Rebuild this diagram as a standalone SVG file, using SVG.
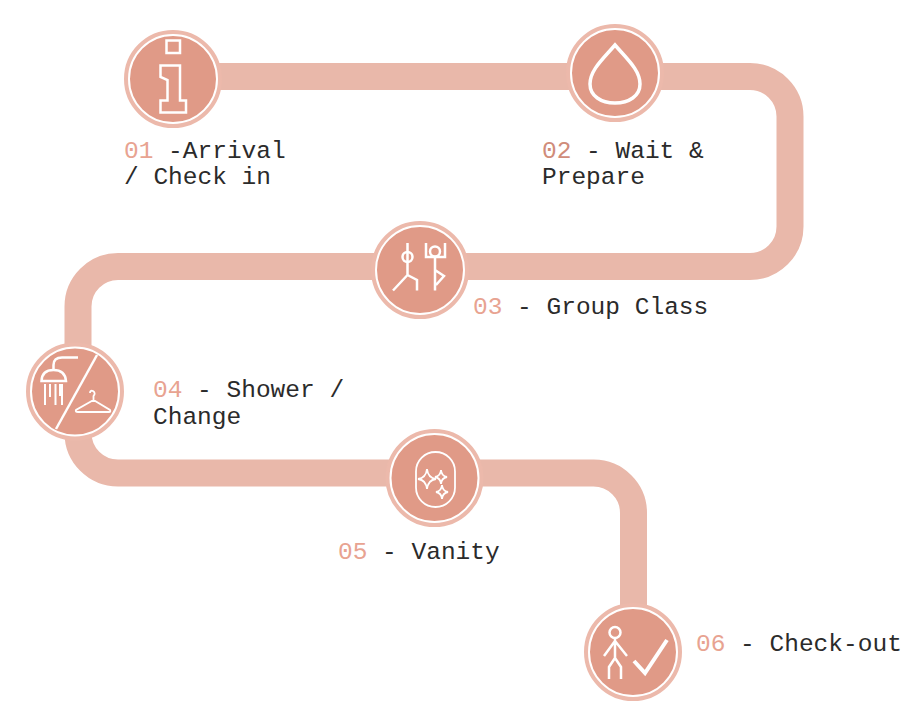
<svg xmlns="http://www.w3.org/2000/svg" width="908" height="701" viewBox="0 0 908 701">
<style>
.band{fill:none;stroke:#e9b8aa;stroke-width:27}
.outer{fill:#e09a87;stroke:#ecb9ab;stroke-width:5}
.ring{fill:none;stroke:#fff;stroke-width:2}
.ic{fill:none;stroke:#fff;stroke-width:2.500;stroke-linecap:butt;stroke-linejoin:miter}
.lb{font-family:"Liberation Mono","DejaVu Sans Mono",monospace;font-size:24.5px;fill:#2b2b2b}
.n{fill:#e8a391}
.n2{fill:#d08c7a}
</style>
<rect width="908" height="701" fill="#fff"/>
<g id="connectors">
<path class="band" d="M173 76.500H750A40 40 0 0 1 790 116.500V226.500A40 40 0 0 1 750 266.500H118A40 40 0 0 0 78 306.500V433A40 40 0 0 0 118 473H593A40 40 0 0 1 633.500 513.500V640"/>
</g>
<g id="node1">
<circle class="outer" cx="173" cy="79" r="46.500"/><circle class="ring" cx="173" cy="79" r="44"/>
<path class="ic" d="M166.500 40.500H180V53H166.500ZM160.500 65.500H180V100.500H186V112.500H160.500V100.500H167.500V80L160.500 77Z"/>
</g>
<g id="node2">
<circle class="outer" cx="615" cy="73" r="46.500"/><circle class="ring" cx="615" cy="73" r="44"/>
<path class="ic" style="stroke-width:3.500" d="M615 45C603 59 590 70 590 84C590 96 601 103 615 103C629 103 640 96 640 84C640 70 627 59 615 45Z"/>
</g>
<g id="node3">
<circle class="outer" cx="420" cy="270" r="46.500"/><circle class="ring" cx="420" cy="270" r="44"/>
<g class="ic"><path d="M407.500 243V275M407.500 275L393 290.500M407.500 275L417 280V290.500M426 243V257H445V243M435 257V290.500M435 270L444 276L436 285"/><circle cx="407.500" cy="257" r="5"/><circle cx="435" cy="251.500" r="5"/></g>
</g>
<g id="node4">
<circle class="outer" cx="75" cy="391.500" r="46.500"/><circle class="ring" cx="75" cy="391.500" r="44"/>
<g class="ic"><path d="M97 355L56 429"/><path d="M78 357.500H62Q53.500 357.500 53.500 365V370"/><path d="M41.500 381Q42 370 53.500 370Q65 370 66 381Z"/><path style="stroke-width:2" d="M45 384V405M50 384V397M55.500 384V405M60 384V396M62 384V405"/><path style="stroke-width:1.800" d="M90 393Q90 390 93 391Q96 393 93.500 396V400L76 410Q75 412 78 412H109Q111 412 110 410L93.500 400"/></g>
</g>
<g id="node5">
<circle class="outer" cx="434.500" cy="478" r="46.500"/><circle class="ring" cx="434.500" cy="478" r="44"/>
<g class="ic" style="stroke-width:1.800"><rect x="416" y="452" width="39" height="55" rx="19.500"/>
<path d="M427 469Q428 478 436 479Q428 480 427 489Q426 480 418 479Q426 478 427 469Z"/><path d="M441 470Q441.500 476 447 477Q441.500 478 441 484Q440.500 478 435 477Q440.500 476 441 470Z"/><path d="M442 485Q442.500 491 448 492Q442.500 493 442 499Q441.500 493 436 492Q441.500 491 442 485Z"/></g>
</g>
<g id="node6">
<circle class="outer" cx="633" cy="652" r="46.500"/><circle class="ring" cx="633" cy="652" r="44"/>
<g class="ic"><circle cx="615" cy="632.500" r="5.500"/><path d="M615 638V658M615 641L604 656M615 641L627 656M615 658L609 667V679M615 658L621 667V679"/><path style="stroke-width:4" d="M634 661L645 673L667 640"/></g>
</g>
<g id="labels">
<text class="lb" x="124" y="158"><tspan class="n">01</tspan> -Arrival</text>
<text class="lb" x="124" y="184">/ Check in</text>
<text class="lb" x="542" y="158"><tspan class="n2">02</tspan> - Wait &amp;</text>
<text class="lb" x="542" y="184">Prepare</text>
<text class="lb" x="473" y="314"><tspan class="n">03</tspan> - Group Class</text>
<text class="lb" x="153" y="397"><tspan class="n">04</tspan> - Shower /</text>
<text class="lb" x="153" y="424">Change</text>
<text class="lb" x="338" y="559"><tspan class="n">05</tspan> - Vanity</text>
<text class="lb" x="696" y="651"><tspan class="n">06</tspan> - Check-out</text>
</g>
</svg>
